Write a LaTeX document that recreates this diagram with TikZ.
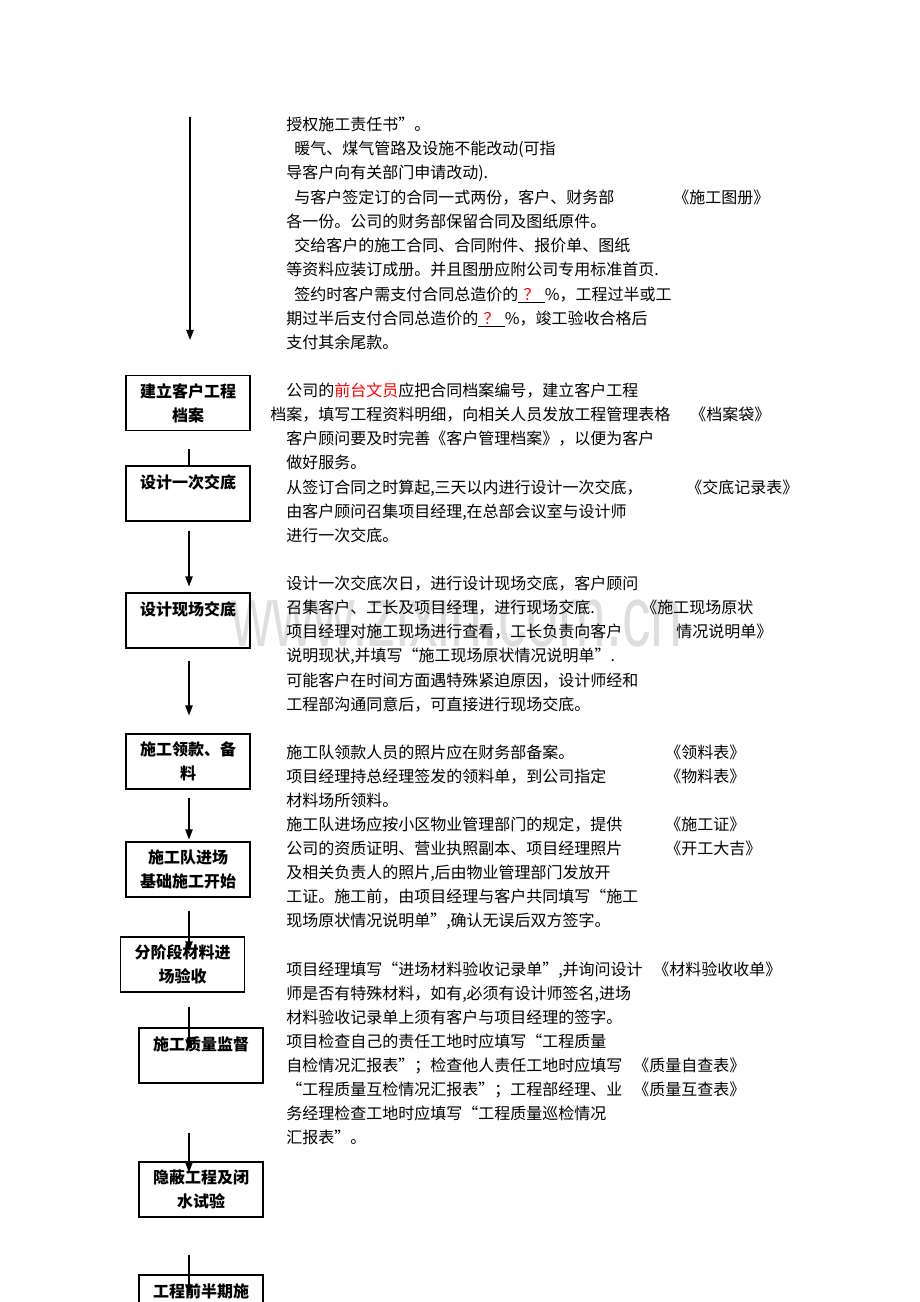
\documentclass[tikz,border=0pt]{standalone}
\usepackage{fontspec}
\setmainfont{Noto Sans CJK SC}
\newfontfamily\wmfont{Liberation Sans}
\usetikzlibrary{arrows.meta,calc}
\newcommand{\wenhao}{\underline{\hspace{4pt}\textcolor{red}{？}\hspace{4pt}}}

\begin{document}
\begin{tikzpicture}[x=0.75pt,y=-0.75pt,
        box/.style={draw,line width=0.8pt,minimum width=93pt,minimum height=41.25pt,inner sep=0pt,align=center,font=\fontsize{12pt}{18pt}\selectfont\bfseries,execute at begin node={\rule{0pt}{15pt}}},
        txt/.style={anchor=base west,inner sep=0pt,font=\fontsize{12pt}{18pt}\selectfont},
        arr/.style={line width=0.9pt,-{Triangle[length=7.5pt,width=5.5pt]}},
        wm/.style={anchor=base west,inner sep=0pt,text=black!13,font=\wmfont\fontsize{65pt}{65pt}\selectfont}]
        \useasboundingbox (0,0) rectangle (920,1302);

        % watermark
        \node[wm] (wm) at (231,646) {\scalebox{0.66}[1]{www.zixin.com.cn}};

        % steps
        \node[box] (A) at (188,403) {建立客户工程\\档案};
        \node[box] (B) at (188,493.5) {设计一次交底\\\mbox{}};
        \node[box] (C) at (188,620.5) {设计现场交底\\\mbox{}};
        \node[box] (D) at (188,761.5) {施工领款、备\\料};
        \node[box] (E) at (188,869.5) {施工队进场\\基础施工开始};
        \node[box] (F) at (182.5,964.5) {分阶段材料进\\场验收};
        \node[box] (G) at (201,1055.5) {施工质量监督\\\mbox{}};
        \node[box] (H) at (201,1189.5) {隐蔽工程及闭\\水试验};
        \node[box] (I) at (201,1302.5) {工程前半期施\\\mbox{}};

        % arrows
        \coordinate (ax) at (189,0);
        \coordinate (top) at (190,117);
        \draw [arr] (top) -- ($(A.north -| top)+(0,-35)$);
        \draw [line width=0.9pt] ($(A.south -| ax)+(0,18)$) -- (B.north -| ax);
        \draw [arr] ($(B.south -| ax)+(0,9)$) -- ($(C.north -| ax)+(0,-6)$);
        \draw [arr] ($(C.south -| ax)+(0,12)$) -- ($(D.north -| ax)+(0,-18)$);
        \draw [arr] ($(D.south -| ax)+(0,8)$) -- ($(E.north -| ax)+(0,-2)$);
        \draw [arr] ($(E.south -| ax)+(0,13)$) -- ($(F.north -| ax)+(0,15)$);
        \draw [arr] ($(F.south -| ax)+(0,14)$) -- ($(G.north -| ax)+(0,22)$);
        \draw [arr] ($(G.south -| ax)+(0,49)$) -- ($(H.north -| ax)+(0,11)$);
        \draw [arr] ($(H.south -| ax)+(0,37)$) -- ($(I.north -| ax)+(0,20)$);

        % description lines
        \foreach[count=\i] \x/\y/\t in {
            286/123/{授权施工责任书”。},
            294/147/{暖气、煤气管路及设施不能改动(可指},
            286/171/{导客户向有关部门申请改动).},
            294/195/{与客户签定订的合同一式两份，客户、财务部},
            286/219/{各一份。公司的财务部保留合同及图纸原件。},
            294/243/{交给客户的施工合同、合同附件、报价单、图纸},
            286/267/{等资料应装订成册。并且图册应附公司专用标准首页.},
            294/292/{签约时客户需支付合同总造价的\wenhao\%，工程过半或工},
            286/316/{期过半后支付合同总造价的\wenhao\%，竣工验收合格后},
            286/340/{支付其余尾款。},
            286/388/{公司的\textcolor{red}{前台文员}应把合同档案编号，建立客户工程},
            270/412/{档案，填写工程资料明细，向相关人员发放工程管理表格},
            286/436/{客户顾问要及时完善《客户管理档案》，以便为客户},
            286/460/{做好服务。},
            286/485/{从签订合同之时算起,三天以内进行设计一次交底，},
            286/509/{由客户顾问召集项目经理,在总部会议室与设计师},
            286/533/{进行一次交底。},
            286/581/{设计一次交底次日，进行设计现场交底，客户顾问},
            286/605/{召集客户、工长及项目经理，进行现场交底.},
            286/629/{项目经理对施工现场进行查看，工长负责向客户},
            286/653/{说明现状,并填写“施工现场原状情况说明单”.},
            286/678/{可能客户在时间方面遇特殊紧迫原因，设计师经和},
            286/702/{工程部沟通同意后，可直接进行现场交底。},
            286/750/{施工队领款人员的照片应在财务部备案。},
            286/774/{项目经理持总经理签发的领料单，到公司指定},
            286/798/{材料场所领料。},
            286/822/{施工队进场应按小区物业管理部门的规定，提供},
            286/846/{公司的资质证明、营业执照副本、项目经理照片},
            286/870/{及相关负责人的照片,后由物业管理部门发放开},
            286/894/{工证。施工前，由项目经理与客户共同填写“施工},
            286/918/{现场原状情况说明单”,确认无误后双方签字。},
            286/967/{项目经理填写“进场材料验收记录单”,并询问设计},
            286/991/{师是否有特殊材料，如有,必须有设计师签名,进场},
            286/1015/{材料验收记录单上须有客户与项目经理的签字。},
            286/1039/{项目检查自己的责任工地时应填写“工程质量},
            286/1063/{自检情况汇报表”；检查他人责任工地时应填写},
            286/1087/{“工程质量互检情况汇报表”；工程部经理、业},
            286/1111/{务经理检查工地时应填写“工程质量巡检情况},
            286/1135/{汇报表”。}}{
            \node[txt] (l\i) at (\x,\y+8) {\t};
        }

        % forms
        \foreach[count=\i] \x/\y/\t in {
            673/195/{《施工图册》},
            690/412/{《档案袋》},
            686/485/{《交底记录表》},
            641/605/{《施工现场原状},
            676/629/{情况说明单》},
            665/750/{《领料表》},
            665/774/{《物料表》},
            665/822/{《施工证》},
            665/846/{《开工大吉》},
            653/967/{《材料验收收单》},
            633/1063/{《质量自查表》},
            633/1087/{《质量互查表》}}{
            \node[txt] (r\i) at (\x,\y+8) {\t};
        }
\end{tikzpicture}
\end{document}
